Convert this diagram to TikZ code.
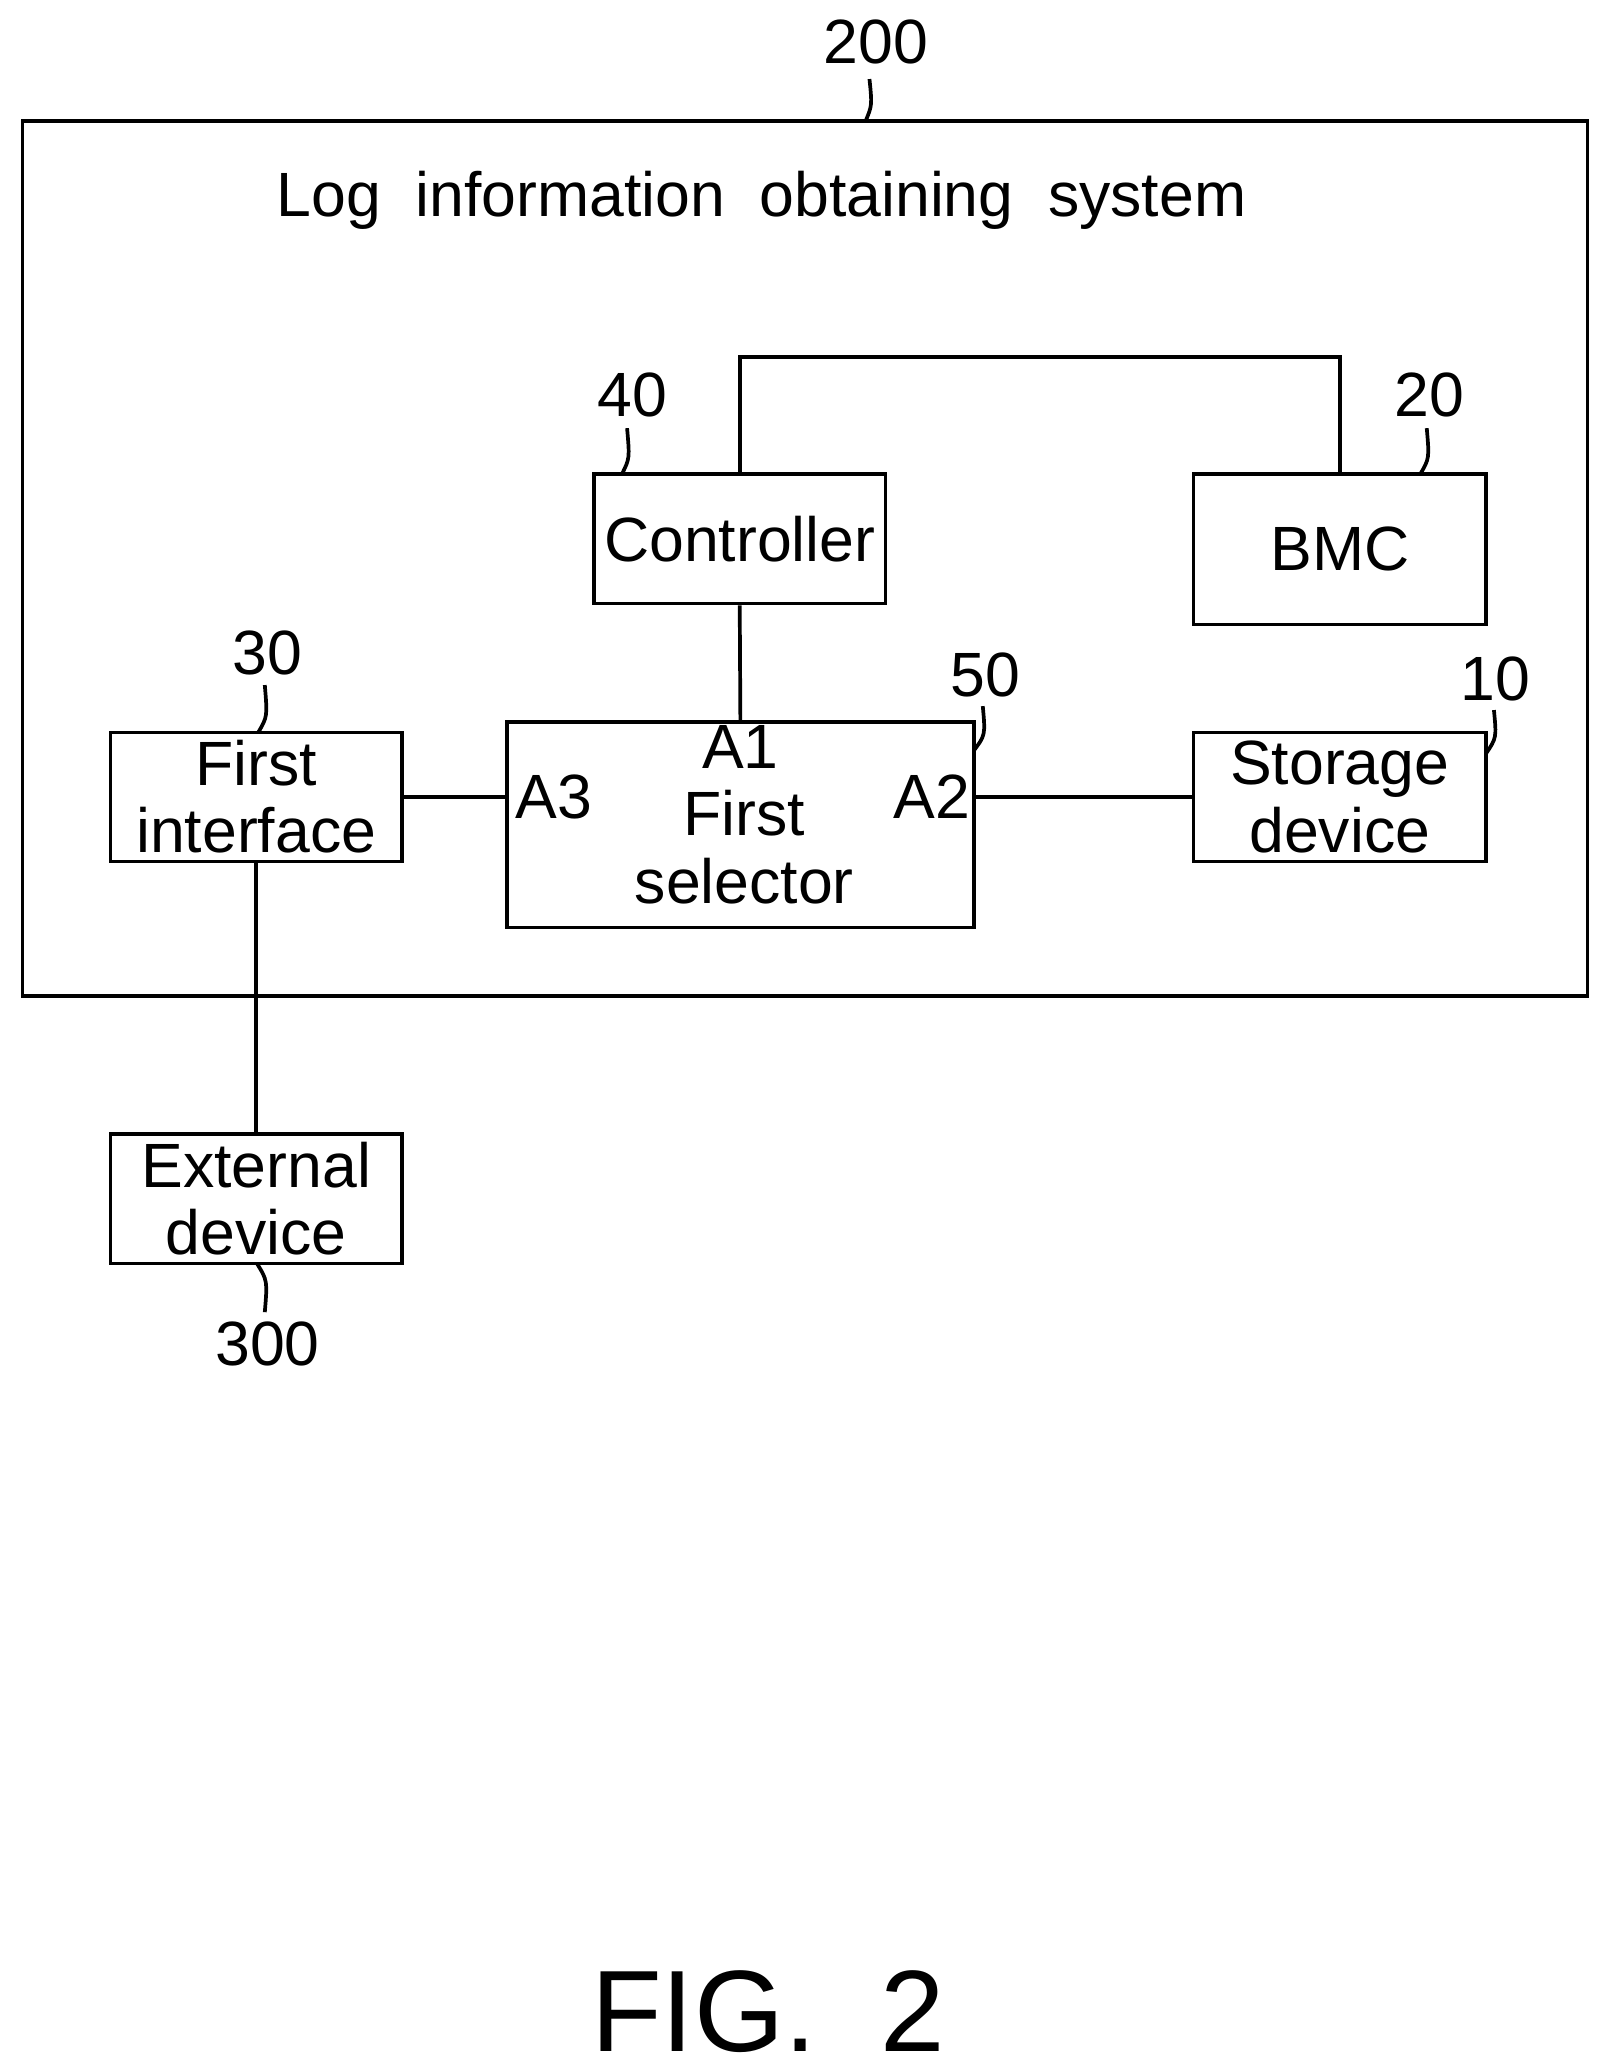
\documentclass[tikz,border=0pt]{standalone}
\usepackage{fontspec}
\setmainfont{Liberation Sans}
\tikzset{
  blk/.style={draw, line width=0.8pt, align=center, inner sep=0pt, font=\fontsize{13.5}{14.5}\selectfont},
  num/.style={font=\fontsize{13.5}{14.5}\selectfont},
  wire/.style={line width=0.8pt}
}
\begin{document}
\begin{tikzpicture}[x=0.01cm, y=-0.01cm]
      \useasboundingbox (0,0) rectangle (1223,1569);
      % outer frame
      \draw[wire] (17,92) rectangle (1205,756);
      \node[num] at (578,152) {Log\ \ information\ \ obtaining\ \ system};
      \node[num] (n200) at (665,32) {200};
      \draw[wire] (657,92) .. controls (662,80) .. (660,60);

      % blocks
      \node[blk, minimum width=2.21cm, minimum height=0.98cm] (ctrl) at (561.5,409) {Controller};
      \node[blk, minimum width=2.22cm, minimum height=1.14cm] (bmc) at (1017,417) {BMC};
      \node[blk, minimum width=2.21cm, minimum height=0.98cm] (intf) at (194.5,605) {First\\interface};
      \node[blk, minimum width=3.54cm, minimum height=1.56cm] (sel) at (562,626) {};
      \node[blk, draw=none] (seltxt) at (565,643) {First\\selector};
      \node[blk, minimum width=2.22cm, minimum height=0.98cm] (stor) at (1017,605) {Storage\\device};
      \node[blk, minimum width=2.21cm, minimum height=0.98cm] (ext) at (194.5,910) {External\\device};

      % pins
      \node[num, anchor=north, inner sep=1pt] (a1) at (sel.north) {A1};
      \node[num, anchor=west, inner sep=2pt] (a3) at (sel.west |- intf.east) {A3};
      \node[num, anchor=east, inner sep=1pt] (a2) at (sel.east |- stor.west) {A2};

      % connections
      \coordinate (up1) at (561.5,271);
      \coordinate (up2) at (1017,271);
      \draw[wire] (ctrl.north) -- (up1) -- (up2) -- (bmc.north);
      \draw[wire] (ctrl.south) -- (sel.north);
      \draw[wire] (intf.east) -- (sel.west |- intf.east);
      \draw[wire] (sel.east |- stor.west) -- (stor.west);
      \draw[wire] (intf.south) -- (ext.north);

      % reference numerals
      \node[num] (n40) at (480,300) {40};
      \draw[wire] (472,360) .. controls (478,348) .. (476,325);
      \node[num] (n20) at (1085,300) {20};
      \draw[wire] (1078,360) .. controls (1085,348) .. (1083,325);
      \node[num] (n30) at (203,496) {30};
      \draw[wire] (196,556) .. controls (203,544) .. (201,520);
      \node[num] (n50) at (748,512) {50};
      \draw[wire] (739,570) .. controls (748,558) .. (746,536);
      \node[num] (n10) at (1135,515) {10};
      \draw[wire] (1128,572) .. controls (1136,560) .. (1134,539);
      \node[num] (n300) at (203,1020) {300};
      \draw[wire] (195,959) .. controls (203,972) .. (201,996);

      \node[font=\fontsize{25}{27}\selectfont] (fig) at (583,1527) {FIG.\ \ 2};
\end{tikzpicture}
\end{document}
